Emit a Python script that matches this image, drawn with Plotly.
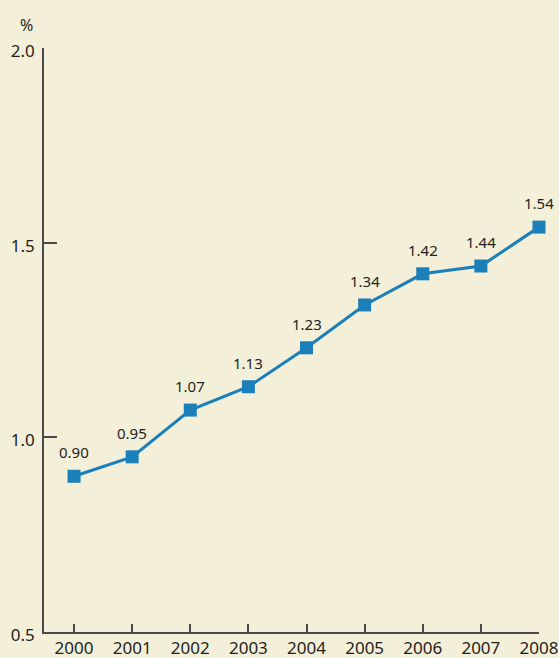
import plotly.graph_objects as go

years = [2000, 2001, 2002, 2003, 2004, 2005, 2006, 2007, 2008]
values = [0.90, 0.95, 1.07, 1.13, 1.23, 1.34, 1.42, 1.44, 1.54]
labels = ["0.90", "0.95", "1.07", "1.13", "1.23", "1.34", "1.42", "1.44", "1.54"]
y_ticks = [0.5, 1.0, 1.5, 2.0]
y_tick_text = ["0.5", "1.0", "1.5", "2.0"]

bg = "#f3efd9"
line_color = "#1b7fba"
axis_color = "#4a4a4a"
text_color = "#231f20"
font_family = "Noto Sans, Open Sans, sans-serif"

fig = go.Figure()
fig.add_trace(go.Scatter(
    x=years, y=values, mode="lines+markers",
    line=dict(color=line_color, width=3),
    marker=dict(symbol="square", size=13, color=line_color),
    cliponaxis=False, hoverinfo="skip",
))

for x, y, t in zip(years, values, labels):
    fig.add_annotation(x=x, y=y, text=t, showarrow=False, yshift=24,
                       font=dict(size=15, color=text_color, family=font_family))

fig.add_annotation(x=0, y=1, xref="paper", yref="paper", text="%", showarrow=False,
                   xanchor="center", yanchor="middle",
                   xshift=-18, yshift=23, font=dict(size=16, color=text_color, family=font_family))

fig.update_layout(
    width=559, height=658,
    margin=dict(l=44, r=20, t=48, b=26),
    paper_bgcolor=bg, plot_bgcolor=bg,
    showlegend=False,
    font=dict(family=font_family, size=16, color=text_color),
    xaxis=dict(
        range=[1999.483, 2008], tickvals=years, ticktext=[str(y) for y in years],
        ticks="inside", ticklen=8, tickwidth=1.5, tickcolor=axis_color,
        showline=True, linecolor=axis_color, linewidth=1.5,
        showgrid=False, zeroline=False, fixedrange=True, automargin=False,
        tickfont=dict(size=17),
    ),
    yaxis=dict(
        range=[0.5, 2.0], tickvals=y_ticks, ticktext=y_tick_text,
        ticks="inside", ticklen=13, tickwidth=1.5, tickcolor=axis_color,
        showline=True, linecolor=axis_color, linewidth=1.5,
        showgrid=False, zeroline=False, fixedrange=True, automargin=False,
        tickfont=dict(size=17), ticklabelstandoff=4, ticklabelshift=3,
    ),
)

fig.write_html("out.html")
